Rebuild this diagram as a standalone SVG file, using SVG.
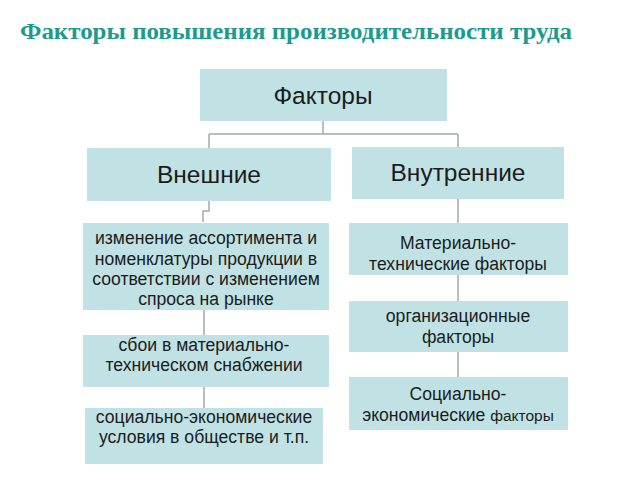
<svg xmlns="http://www.w3.org/2000/svg" width="640" height="480" viewBox="0 0 640 480">
<style>
.box{fill:#c0e2e4;}
.t{font-family:"Liberation Sans",Arial,sans-serif;fill:#1c1c1c;text-anchor:middle;}
.big{font-size:24.5px;}
.sm{font-size:17.6px;}
.c{fill:none;stroke:#a3abab;stroke-width:1.5;}
.title{font-family:"Liberation Serif","Times New Roman",serif;font-weight:bold;font-size:24px;fill:#1b9a8e;}
</style>
<rect width="640" height="480" fill="#ffffff"/>
<text class="title" x="20" y="39" textLength="552" lengthAdjust="spacingAndGlyphs">Факторы повышения производительности труда</text>
<g id="connectors">
<path class="c" d="M323,121 V134 M209,134 H458 M209,134 V148 M458,134 V147"/>
<path class="c" d="M209,200 V211 H203 V222"/>
<path class="c" d="M204,310 V335 M204,387 V408"/>
<path class="c" d="M458,199 V223 M458,275 V301 M458,352 V377"/>
</g>
<g id="n-factors"><rect class="box" x="200" y="69" width="247" height="52"/><text class="t big" x="323" y="104">Факторы</text></g>
<g id="n-external"><rect class="box" x="87" y="148" width="244" height="53"/><text class="t big" x="209" y="183">Внешние</text></g>
<g id="n-internal"><rect class="box" x="352" y="147" width="212" height="52"/><text class="t big" x="458" y="181">Внутренние</text></g>
<g id="n-assort"><rect class="box" x="83" y="223" width="246" height="87"/>
<text class="t sm" x="206" y="244">изменение ассортимента и</text>
<text class="t sm" x="206" y="265">номенклатуры продукции в</text>
<text class="t sm" x="206" y="285">соответствии с изменением</text>
<text class="t sm" x="206" y="305">спроса на рынке</text></g>
<g id="n-supply"><rect class="box" x="83" y="335" width="246" height="52"/>
<text class="t sm" x="204" y="351">сбои в материально-</text>
<text class="t sm" x="204" y="371">техническом снабжении</text></g>
<g id="n-socio-ext"><rect class="box" x="85" y="408" width="238" height="56"/>
<text class="t sm" x="204" y="423">социально-экономические</text>
<text class="t sm" x="204" y="443">условия в обществе и т.п.</text></g>
<g id="n-material"><rect class="box" x="349" y="223" width="219" height="52"/>
<text class="t sm" x="458" y="249">Материально-</text>
<text class="t sm" x="458" y="270">технические факторы</text></g>
<g id="n-org"><rect class="box" x="349" y="301" width="219" height="51"/>
<text class="t sm" x="458" y="322">организационные</text>
<text class="t sm" x="458" y="343">факторы</text></g>
<g id="n-social"><rect class="box" x="349" y="377" width="219" height="53"/>
<text class="t sm" x="458" y="400">Социально-</text>
<text class="t sm" x="458" y="421">экономические <tspan font-size="15.5">факторы</tspan></text></g>
</svg>
